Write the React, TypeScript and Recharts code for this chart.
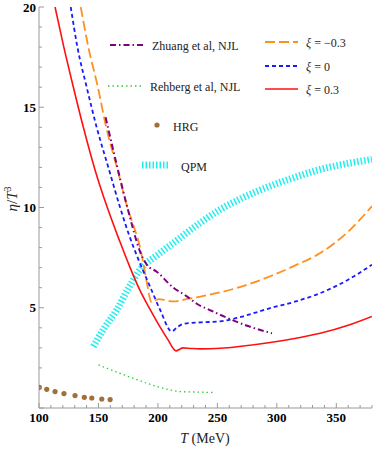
import React from 'react';
import { ComposedChart, Line, XAxis, YAxis } from 'recharts';

// [T (MeV), eta/T^3]
const xiPlus03: [number, number][] = [
  [113.5, 20], [120.5, 18.1], [128.9, 16.0], [137.3, 14.0], [147, 11.9], [157, 10.07], [168, 8.3],
  [176.6, 7.0], [185, 5.85], [193.4, 4.92], [201, 4.12], [208, 3.45], [215.3, 2.85],
  [218, 2.92], [221, 3.0], [228, 2.97], [235.5, 2.95], [252.4, 2.98], [270, 3.08], [294.4, 3.27],
  [315, 3.47], [336.5, 3.73], [360, 4.13], [380, 4.57],
];
const xiZero: [number, number][] = [
  [126.7, 20], [132.3, 18], [140.1, 16], [148.5, 14], [158.3, 12], [168.2, 10], [175, 8.75],
  [185, 7.2], [193.4, 6.05], [201.8, 4.9], [211.7, 3.82], [216, 4.02], [221.5, 4.2], [235.5, 4.27],
  [252.4, 4.32], [270, 4.55], [294.4, 4.98], [315, 5.3], [336.5, 5.73], [360, 6.4], [380, 7.15],
];
const xiMinus03: [number, number][] = [
  [135.1, 20], [141.5, 18], [149.5, 16], [156.5, 14], [165.5, 12], [174.3, 10], [180, 9.0],
  [185, 8.0], [189.2, 6.75], [194.8, 5.27], [200.4, 5.43], [206, 5.38], [213, 5.32], [222, 5.4],
  [232.7, 5.52], [252.4, 5.77], [270, 6.05], [294.4, 6.57], [315, 7.1], [336.5, 7.73], [360, 8.8],
  [380, 10.07],
];
const zhuangNJL: [number, number][] = [
  [156, 14.5], [165.5, 12.1], [175.2, 9.8], [185, 7.8], [190.6, 7.15], [199, 6.8], [213, 6.0],
  [224.3, 5.57], [232.7, 5.2], [245, 4.85], [258, 4.5], [275, 4.1], [295.9, 3.73],
];
const rehbergNJL: [number, number][] = [
  [150, 2.15], [165, 1.8], [179.4, 1.48], [195, 1.15], [210.3, 0.9], [218.7, 0.82], [230, 0.8],
  [248, 0.77],
];
const qpm: [number, number][] = [
  [145.7, 3.07], [155, 4.0], [165.4, 4.9], [175, 5.95], [185, 6.9], [200, 7.65], [213, 8.23],
  [235.5, 9.23], [252.4, 9.9], [270, 10.45], [294.4, 11.07], [315, 11.5], [336.5, 11.9],
  [360, 12.2], [380, 12.4],
];
const hrg: [number, number][] = [
  [100.3, 1.03], [106.5, 0.93], [113.5, 0.82], [121, 0.72], [130.3, 0.62], [138.1, 0.53],
  [144.4, 0.5], [152.8, 0.45], [159.8, 0.42],
];

const xTicks = [100, 110, 120, 130, 140, 150, 160, 170, 180, 190, 200, 210, 220, 230, 240, 250, 260, 270, 280, 290, 300, 310, 320, 330, 340, 350, 360, 370, 380];
const xLabels = [100, 150, 200, 250, 300, 350];
const yTicks = [0, 1, 2, 3, 4, 5, 6, 7, 8, 9, 10, 11, 12, 13, 14, 15, 16, 17, 18, 19, 20];
const yLabels = [5, 10, 15, 20];

const toData = (arr: [number, number][]) => arr.map(([T, v]) => ({ T, v }));

const FRAME = '#9a9a9a';
const FONT = '"Liberation Serif", "DejaVu Serif", serif';

const BottomTick = (props: any) => {
  const { x, y, payload } = props;
  const major = xLabels.includes(payload.value);
  return (
    <g>
      <line x1={x} x2={x} y1={y} y2={y - (major ? 5 : 3)} stroke={FRAME} />
      {major && (
        <text x={x} y={y + 14} textAnchor="middle" fontFamily={FONT} fontWeight="bold" fontSize={13} fill="#000">
          {payload.value}
        </text>
      )}
    </g>
  );
};
const TopTick = (props: any) => {
  const { x, y, payload } = props;
  const major = xLabels.includes(payload.value);
  return <line x1={x} x2={x} y1={y} y2={y + (major ? 5 : 3)} stroke={FRAME} />;
};
const LeftTick = (props: any) => {
  const { x, y, payload } = props;
  const major = payload.value % 5 === 0;
  return (
    <g>
      <line x1={x} x2={x + (major ? 5 : 3)} y1={y} y2={y} stroke={FRAME} />
      {yLabels.includes(payload.value) && (
        <text x={x - 3} y={y + 4.5} textAnchor="end" fontFamily={FONT} fontWeight="bold" fontSize={13} fill="#000">
          {payload.value}
        </text>
      )}
    </g>
  );
};
const RightTick = (props: any) => {
  const { x, y, payload } = props;
  const major = payload.value % 5 === 0;
  return <line x1={x} x2={x - (major ? 5 : 3)} y1={y} y2={y} stroke={FRAME} />;
};

const Overlay = () => (
  <svg width={374} height={449} style={{ position: 'absolute', left: 0, top: 0, pointerEvents: 'none' }}>
    <g fontFamily={FONT} fontSize={12} fill="#222">
      <line x1={110} x2={143} y1={45} y2={45} stroke="#800080" strokeWidth={2} strokeDasharray="6 3 1.5 3" />
      <text x={152} y={50}>Zhuang et al, NJL</text>
      <line x1={108} x2={141} y1={86} y2={86} stroke="#33cc33" strokeWidth={1.3} strokeDasharray="1.5 3" />
      <text x={150} y={91}>Rehberg et al, NJL</text>
      <circle cx={157} cy={125} r={2.6} fill="#a0703a" />
      <text x={173} y={131}>HRG</text>
      <line x1={142} x2={169} y1={165} y2={165} stroke="#22eeee" strokeWidth={7} strokeDasharray="1.5 2" />
      <text x={181} y={171}>QPM</text>
      <line x1={265} x2={298} y1={42} y2={42} stroke="#ff9020" strokeWidth={1.8} strokeDasharray="10 4" />
      <text x={306} y={47}><tspan fontStyle="italic">ξ</tspan> = −0.3</text>
      <line x1={265} x2={298} y1={66} y2={66} stroke="#1a1aff" strokeWidth={1.8} strokeDasharray="4 3" />
      <text x={306} y={71}><tspan fontStyle="italic">ξ</tspan> = 0</text>
      <line x1={265} x2={298} y1={89} y2={89} stroke="#ff1010" strokeWidth={1.6} />
      <text x={306} y={94}><tspan fontStyle="italic">ξ</tspan> = 0.3</text>
    </g>
    <text x={0} y={0} transform="translate(17,199) rotate(-90)" textAnchor="middle" fontFamily={FONT} fontSize={15} fill="#222">
      <tspan fontStyle="italic">η</tspan>/<tspan fontStyle="italic">T</tspan><tspan fontSize={10} dy={-6}>3</tspan>
    </text>
    <text x={205} y={443} textAnchor="middle" fontFamily={FONT} fontSize={14} fill="#222">
      <tspan fontStyle="italic">T</tspan> (MeV)
    </text>
  </svg>
);

export default function App() {
  return (
    <div style={{ position: 'absolute', left: 0, top: 0, width: 374, height: 449, background: '#fff' }}>
      <ComposedChart width={374} height={449} margin={{ top: 7, right: 2, bottom: 0, left: 0 }}>
        <XAxis xAxisId="b" dataKey="T" type="number" domain={[100, 380]} ticks={xTicks} interval={0}
          allowDataOverflow tickSize={0} tickMargin={0} height={41} axisLine={{ stroke: FRAME }} tickLine={false}
          tick={<BottomTick />} />
        <XAxis xAxisId="t" dataKey="T" type="number" orientation="top" domain={[100, 380]} ticks={xTicks} interval={0}
          allowDataOverflow tickSize={0} tickMargin={0} height={0} axisLine={{ stroke: FRAME }} tickLine={false}
          tick={<TopTick />} />
        <YAxis yAxisId="l" type="number" domain={[0, 20]} ticks={yTicks} interval={0} allowDataOverflow
          tickSize={0} tickMargin={0} width={39} axisLine={{ stroke: FRAME }} tickLine={false} tick={<LeftTick />} />
        <YAxis yAxisId="r" type="number" orientation="right" domain={[0, 20]} ticks={yTicks} interval={0} allowDataOverflow
          tickSize={0} tickMargin={0} width={0} axisLine={{ stroke: FRAME }} tickLine={false} tick={<RightTick />} />
        <Line xAxisId="b" yAxisId="l" data={toData(qpm)} dataKey="v" type="monotone" stroke="#22eeee" strokeWidth={7}
          strokeDasharray="1.5 2" dot={false} isAnimationActive={false} />
        <Line xAxisId="b" yAxisId="l" data={toData(rehbergNJL)} dataKey="v" type="monotone" stroke="#33cc33" strokeWidth={1.3}
          strokeDasharray="1.5 3" dot={false} isAnimationActive={false} />
        <Line xAxisId="b" yAxisId="l" data={toData(hrg)} dataKey="v" stroke="none"
          dot={{ r: 2.6, fill: '#a0703a', stroke: 'none' }} isAnimationActive={false} />
        <Line xAxisId="b" yAxisId="l" data={toData(xiMinus03)} dataKey="v" type="monotone" stroke="#ff9020" strokeWidth={1.8}
          strokeDasharray="10 4" dot={false} isAnimationActive={false} />
        <Line xAxisId="b" yAxisId="l" data={toData(zhuangNJL)} dataKey="v" type="monotone" stroke="#800080" strokeWidth={2}
          strokeDasharray="6 3 1.5 3" dot={false} isAnimationActive={false} />
        <Line xAxisId="b" yAxisId="l" data={toData(xiZero)} dataKey="v" type="monotone" stroke="#1a1aff" strokeWidth={1.8}
          strokeDasharray="4 3" dot={false} isAnimationActive={false} />
        <Line xAxisId="b" yAxisId="l" data={toData(xiPlus03)} dataKey="v" type="monotone" stroke="#ff1010" strokeWidth={1.6}
          dot={false} isAnimationActive={false} />
      </ComposedChart>
      <Overlay />
    </div>
  );
}
